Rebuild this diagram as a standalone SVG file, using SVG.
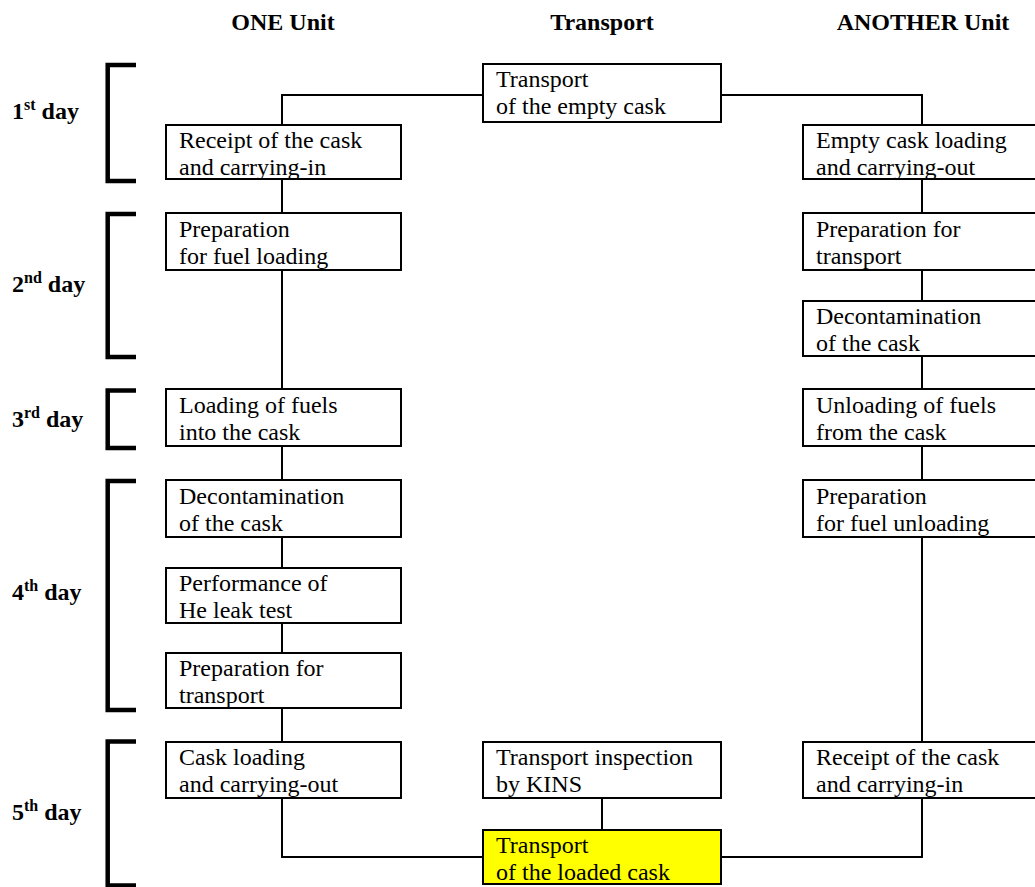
<svg xmlns="http://www.w3.org/2000/svg" width="1035" height="887" viewBox="0 0 1035 887">
<style>
.bx{fill:#fff;stroke:#000;stroke-width:2}
.hl{fill:#ffff00;stroke:#000;stroke-width:2}
.t{font-size:24px;fill:#000}
.h{font-size:24px;font-weight:bold;fill:#000;text-anchor:middle}
.d{font-size:24px;font-weight:bold;fill:#000}
.br{fill:none;stroke:#000;stroke-width:4.5}
.cn{fill:none;stroke:#000;stroke-width:2}
</style>
<rect width="1035" height="887" fill="#fff"/>
<g id="headers">
<text class="h" style="font-family:'Liberation Serif'" x="283" y="30">ONE Unit</text>
<text class="h" style="font-family:'Liberation Serif'" x="602" y="30">Transport</text>
<text class="h" style="font-family:'Liberation Serif'" x="923" y="30">ANOTHER Unit</text>
</g>
<g id="days">
<path class="br" d="M136,65H107.7V181H136"/>
<path class="br" d="M136,214H107.7V357H136"/>
<path class="br" d="M136,390.5H107.7V448H136"/>
<path class="br" d="M136,481H107.7V710H136"/>
<path class="br" d="M136,741.5H107.7V885.5H136"/>
<text class="d" style="font-family:'Liberation Serif'" x="12" y="119">1<tspan font-size="16" dy="-9">st</tspan><tspan dy="9"> day</tspan></text>
<text class="d" style="font-family:'Liberation Serif'" x="12" y="292">2<tspan font-size="16" dy="-9">nd</tspan><tspan dy="9"> day</tspan></text>
<text class="d" style="font-family:'Liberation Serif'" x="12" y="427">3<tspan font-size="16" dy="-9">rd</tspan><tspan dy="9"> day</tspan></text>
<text class="d" style="font-family:'Liberation Serif'" x="12" y="600">4<tspan font-size="16" dy="-9">th</tspan><tspan dy="9"> day</tspan></text>
<text class="d" style="font-family:'Liberation Serif'" x="12" y="820">5<tspan font-size="16" dy="-9">th</tspan><tspan dy="9"> day</tspan></text>
</g>
<g id="connectors">
<path class="cn" d="M483,95H282V125"/>
<path class="cn" d="M721,95H922V125"/>
<path class="cn" d="M282,179V213M282,270V389M282,446V480M282,537V568M282,623V653M282,708V742M282,798V857H483"/>
<path class="cn" d="M922,179V213M922,270V301M922,356V389M922,446V480M922,537V742M922,798V857H721"/>
<path class="cn" d="M602,798V830"/>
</g>
<g id="T1"><rect class="bx" x="483" y="64" width="238" height="58"/><text class="t" style="font-family:'Liberation Serif'" x="496" y="87">Transport</text><text class="t" style="font-family:'Liberation Serif'" x="496" y="114">of the empty cask</text></g>
<g id="L1"><rect class="bx" x="166" y="125" width="235" height="54"/><text class="t" style="font-family:'Liberation Serif'" x="179" y="148">Receipt of the cask</text><text class="t" style="font-family:'Liberation Serif'" x="179" y="175">and carrying-in</text></g>
<g id="R1"><rect class="bx" x="803" y="125" width="237" height="54"/><text class="t" style="font-family:'Liberation Serif'" x="816" y="148">Empty cask loading</text><text class="t" style="font-family:'Liberation Serif'" x="816" y="175">and carrying-out</text></g>
<g id="L2"><rect class="bx" x="166" y="213" width="235" height="57"/><text class="t" style="font-family:'Liberation Serif'" x="179" y="237">Preparation</text><text class="t" style="font-family:'Liberation Serif'" x="179" y="264">for fuel loading</text></g>
<g id="R2"><rect class="bx" x="803" y="213" width="237" height="57"/><text class="t" style="font-family:'Liberation Serif'" x="816" y="237">Preparation for</text><text class="t" style="font-family:'Liberation Serif'" x="816" y="264">transport</text></g>
<g id="R3"><rect class="bx" x="803" y="301" width="237" height="55"/><text class="t" style="font-family:'Liberation Serif'" x="816" y="324">Decontamination</text><text class="t" style="font-family:'Liberation Serif'" x="816" y="351">of the cask</text></g>
<g id="L3"><rect class="bx" x="166" y="389" width="235" height="57"/><text class="t" style="font-family:'Liberation Serif'" x="179" y="413">Loading of fuels</text><text class="t" style="font-family:'Liberation Serif'" x="179" y="440">into the cask</text></g>
<g id="R4"><rect class="bx" x="803" y="389" width="237" height="57"/><text class="t" style="font-family:'Liberation Serif'" x="816" y="413">Unloading of fuels</text><text class="t" style="font-family:'Liberation Serif'" x="816" y="440">from the cask</text></g>
<g id="L4"><rect class="bx" x="166" y="480" width="235" height="57"/><text class="t" style="font-family:'Liberation Serif'" x="179" y="504">Decontamination</text><text class="t" style="font-family:'Liberation Serif'" x="179" y="531">of the cask</text></g>
<g id="R5"><rect class="bx" x="803" y="480" width="237" height="57"/><text class="t" style="font-family:'Liberation Serif'" x="816" y="504">Preparation</text><text class="t" style="font-family:'Liberation Serif'" x="816" y="531">for fuel unloading</text></g>
<g id="L5"><rect class="bx" x="166" y="568" width="235" height="55"/><text class="t" style="font-family:'Liberation Serif'" x="179" y="591">Performance of</text><text class="t" style="font-family:'Liberation Serif'" x="179" y="618">He leak test</text></g>
<g id="L6"><rect class="bx" x="166" y="653" width="235" height="55"/><text class="t" style="font-family:'Liberation Serif'" x="179" y="676">Preparation for</text><text class="t" style="font-family:'Liberation Serif'" x="179" y="703">transport</text></g>
<g id="L7"><rect class="bx" x="166" y="742" width="235" height="56"/><text class="t" style="font-family:'Liberation Serif'" x="179" y="765">Cask loading</text><text class="t" style="font-family:'Liberation Serif'" x="179" y="792">and carrying-out</text></g>
<g id="T2"><rect class="bx" x="483" y="742" width="238" height="56"/><text class="t" style="font-family:'Liberation Serif'" x="496" y="765">Transport inspection</text><text class="t" style="font-family:'Liberation Serif'" x="496" y="792">by KINS</text></g>
<g id="R6"><rect class="bx" x="803" y="742" width="237" height="56"/><text class="t" style="font-family:'Liberation Serif'" x="816" y="765">Receipt of the cask</text><text class="t" style="font-family:'Liberation Serif'" x="816" y="792">and carrying-in</text></g>
<g id="T3"><rect class="hl" x="483" y="830" width="238" height="54"/><text class="t" style="font-family:'Liberation Serif'" x="496" y="853">Transport</text><text class="t" style="font-family:'Liberation Serif'" x="496" y="880">of the loaded cask</text></g>
</svg>
